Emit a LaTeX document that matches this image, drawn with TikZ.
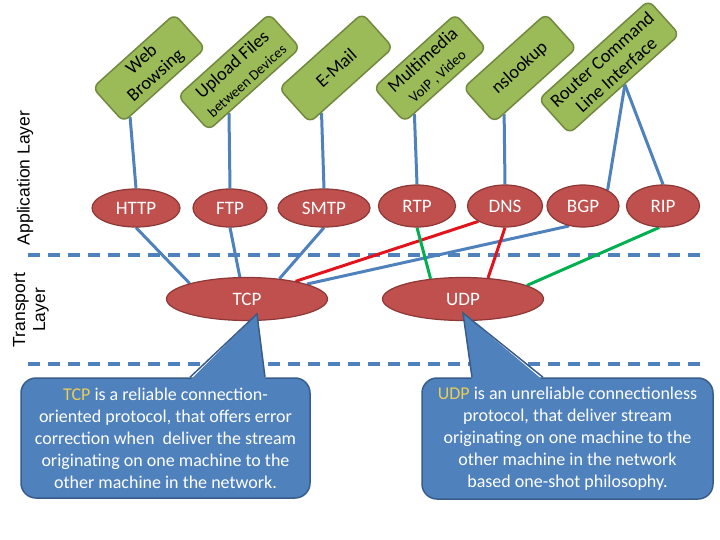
\documentclass[tikz,border=0pt]{standalone}
\usepackage{fontspec}
\setmainfont{Carlito}
\newfontfamily\arialfont{Liberation Sans}
\usepackage{xcolor}
\usepackage{tikz}
\usetikzlibrary{calc,shapes.geometric,backgrounds}

\definecolor{appgreen}{HTML}{9BBB59}
\definecolor{appedge}{HTML}{71893F}
\definecolor{protored}{HTML}{C0504D}
\definecolor{protoedge}{HTML}{8C3836}
\definecolor{linkblue}{HTML}{4F81BD}
\definecolor{noteedge}{HTML}{385D8A}
\definecolor{linkred}{RGB}{225,20,30}
\definecolor{linkgreen}{HTML}{00B050}
\definecolor{tagyellow}{RGB}{235,205,85}

\newcommand{\lowtxt}[1]{{\fontsize{14.5}{15}\selectfont #1}}

\begin{document}
\begin{tikzpicture}[
  x=1pt, y=1pt,
  app/.style={
    draw=appedge,
    fill=appgreen,
    line width=1.5pt,
    rounded corners=7pt,
    rotate=42,
    minimum height=46pt,
    inner sep=0pt,
    align=center,
    font=\fontsize{18.5}{21}\selectfont
  },
  proto/.style={ellipse, draw=protoedge, fill=protored, line width=1.2pt,
    inner sep=0pt, minimum height=38pt, text=white, font=\fontsize{19}{20}\selectfont},
  note/.style={draw=noteedge, fill=linkblue, line width=1.5pt, rounded corners=15pt,
    text=white, align=center, inner sep=0pt, font=\fontsize{18}{22}\selectfont},
  layer/.style={rotate=90, align=center, font=\arialfont\fontsize{17.5}{20}\selectfont},
  link/.style={linkblue, line width=3pt},
  hot/.style={linkred, line width=3pt},
  udplink/.style={linkgreen, line width=3pt},
  sep/.style={linkblue, line width=4pt, dash pattern=on 12pt off 8pt}
]
  \useasboundingbox (0,-540) rectangle (720,0);

  \node[layer] (applbl) at (25,-178) {Application Layer};
  \node[layer] (trlbl) at (31,-310) {Transport\\Layer};

  \node[app, minimum width=110pt] (web) at (149,-68) {Web\\Browsing};
  \node[app, minimum width=123pt] (upload) at (239,-72) {Upload Files\\\lowtxt{between Devices}};
  \node[app, minimum width=112pt] (mail) at (336,-68) {E-Mail};
  \node[app, minimum width=110pt] (media) at (430,-68) {Multimedia\\\lowtxt{VoIP , Video}};
  \node[app, minimum width=111pt] (nslook) at (520,-68) {nslookup};
  \node[app, minimum width=148pt] (router) at (609,-67) {Router Command\\Line Interface};

  \node[proto, minimum width=88pt] (http) at (136,-208) {HTTP};
  \node[proto, minimum width=74pt] (ftp) at (230,-208) {FTP};
  \node[proto, minimum width=92pt] (smtp) at (324,-208) {SMTP};
  \node[proto, minimum width=77pt, minimum height=42pt] (rtp) at (417,-206) {RTP};
  \node[proto, minimum width=75pt, minimum height=42pt] (dns) at (505,-206) {DNS};
  \node[proto, minimum width=72pt, minimum height=42pt] (bgp) at (583,-206) {BGP};
  \node[proto, minimum width=73pt, minimum height=42pt] (rip) at (663,-206) {RIP};
  \node[proto, minimum width=161pt, minimum height=43pt] (tcp) at (247,-299) {TCP};
  \node[proto, minimum width=161pt, minimum height=43pt] (udp) at (463,-299) {UDP};

  \begin{scope}[on background layer]
    \draw[sep] (28,-255) -- (706,-255);
    \draw[sep] (28,-364) -- (706,-364);

    \draw[link] ($(web.south west)!.08!(web.south east)$) -- (http.north);
    \draw[link] ($(upload.south west)!.22!(upload.south east)$) -- (ftp.north);
    \draw[link] ($(mail.south west)!.14!(mail.south east)$) -- (smtp.north);
    \draw[link] ($(media.south west)!.12!(media.south east)$) -- (rtp.north);
    \draw[link] ($(nslook.south west)!.12!(nslook.south east)$) -- (dns.north);
    \draw[link] (router.south) -- (bgp.33);
    \draw[link] (router.south) -- (rip.north);

    \draw[link] (http.south) -- (tcp.north west);
    \draw[link] (ftp.south) -- (tcp.108);
    \draw[link] (smtp.south) -- (tcp.32);
    \draw[link] (bgp.235) -- (tcp.14);

    \draw[hot] (dns.210) -- (tcp.20);
    \draw[hot] (dns.south) -- (udp.40);

    \draw[udplink] (rtp.south) -- (udp.148);
    \draw[udplink] (rip.260) -- (udp.12);
  \end{scope}

  \node[note, minimum width=289pt, minimum height=120pt] (tcpnote) at (165.5,-438)
    {\textcolor{tagyellow}{TCP} is a reliable connection-\\
     oriented protocol, that offers error\\
     correction when\ \ deliver the stream\\
     originating on one machine to the\\
     other machine in the network.};
  \node[note, minimum width=291pt, minimum height=121pt] (udpnote) at (567.5,-438.5)
    {\textcolor{tagyellow}{UDP} is an unreliable connectionless\\
     protocol, that deliver stream\\
     originating on one machine to the\\
     other machine in the network\\
     based one-shot philosophy.};

  \coordinate (tcptip) at (257,-314);
  \coordinate (udptip) at (463,-313);
  \fill[linkblue] (tcptip) -- ($(tcpnote.north)+(24.5,-3)$) -- ($(tcpnote.north)+(99.5,-3)$) -- cycle;
  \draw[noteedge, line width=1.5pt] ($(tcpnote.north)+(24.5,0)$) -- (tcptip) -- ($(tcpnote.north)+(99.5,0)$);
  \fill[linkblue] (udptip) -- ($(udpnote.north)+(-95.5,-3)$) -- ($(udpnote.north)+(-24.5,-3)$) -- cycle;
  \draw[noteedge, line width=1.5pt] ($(udpnote.north)+(-95.5,0)$) -- (udptip) -- ($(udpnote.north)+(-24.5,0)$);
\end{tikzpicture}
\end{document}
